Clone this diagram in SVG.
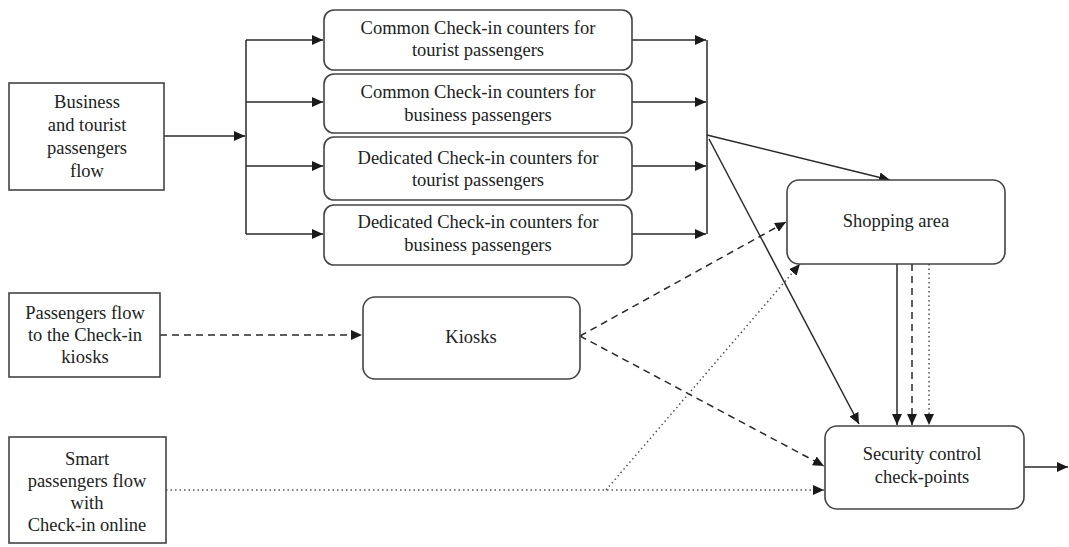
<svg xmlns="http://www.w3.org/2000/svg" width="1069" height="547" viewBox="0 0 1069 547">
<style>
.box{fill:#fff;stroke:#444;stroke-width:1.6}
.t{font-family:"Liberation Serif","Times New Roman",serif;font-size:18.5px;fill:#222;text-anchor:middle}
.ln{fill:none;stroke:#2a2a2a;stroke-width:1.5}
.ds{stroke-dasharray:7,5}
.dt{stroke-dasharray:1.5,3;stroke:#555}
</style>
<defs>
<marker id="ah" markerUnits="userSpaceOnUse" markerWidth="12" markerHeight="10" refX="11" refY="5" orient="auto">
<path d="M0,0 L11,5 L0,10 Z" fill="#1a1a1a"/>
</marker>
</defs>
<rect width="1069" height="547" fill="#fff"/>
<g id="connectors">
<path class="ln" d="M164,136 H245" marker-end="url(#ah)"/>
<path class="ln" d="M246,40 V234"/>
<path class="ln" d="M246,40 H323" marker-end="url(#ah)"/>
<path class="ln" d="M246,102 H323" marker-end="url(#ah)"/>
<path class="ln" d="M246,166 H323" marker-end="url(#ah)"/>
<path class="ln" d="M246,234 H323" marker-end="url(#ah)"/>
<path class="ln" d="M632,40 H706" marker-end="url(#ah)"/>
<path class="ln" d="M632,102 H706" marker-end="url(#ah)"/>
<path class="ln" d="M632,166 H706" marker-end="url(#ah)"/>
<path class="ln" d="M632,234 H706" marker-end="url(#ah)"/>
<path class="ln" d="M707,40 V234"/>
<path class="ln" d="M707,135 L890,180" marker-end="url(#ah)"/>
<path class="ln" d="M709,139 L859,424" marker-end="url(#ah)"/>
<path class="ln ds" d="M160,335 H362" marker-end="url(#ah)"/>
<path class="ln ds" d="M580,336 L786,222" marker-end="url(#ah)"/>
<path class="ln ds" d="M580,336 L824,466" marker-end="url(#ah)"/>
<path class="ln dt" d="M166,490 H824" marker-end="url(#ah)"/>
<path class="ln dt" d="M606,490 L800,264" marker-end="url(#ah)"/>
<path class="ln" d="M897,264 V425" marker-end="url(#ah)"/>
<path class="ln ds" d="M912,264 V425" marker-end="url(#ah)"/>
<path class="ln dt" d="M929,264 V425" marker-end="url(#ah)"/>
<path class="ln" d="M1024,467 H1068" marker-end="url(#ah)"/>
</g>
<g id="n-business">
<rect class="box" x="9" y="83" width="155" height="107"/>
<text class="t" x="87" y="108">Business</text>
<text class="t" x="87" y="131">and tourist</text>
<text class="t" x="87" y="154">passengers</text>
<text class="t" x="87" y="177">flow</text>
</g>
<g id="n-kioskflow">
<rect class="box" x="9" y="293" width="151" height="84"/>
<text class="t" x="85" y="319">Passengers flow</text>
<text class="t" x="85" y="341">to the Check-in</text>
<text class="t" x="85" y="363">kiosks</text>
</g>
<g id="n-smart">
<rect class="box" x="9" y="437" width="157" height="106"/>
<text class="t" x="87" y="465">Smart</text>
<text class="t" x="87" y="487">passengers flow</text>
<text class="t" x="87" y="509">with</text>
<text class="t" x="87" y="531">Check-in online</text>
</g>
<g id="n-c1">
<rect class="box" x="324" y="10" width="308" height="60" rx="10"/>
<text class="t" x="478" y="34">Common Check-in counters for</text>
<text class="t" x="478" y="56">tourist passengers</text>
</g>
<g id="n-c2">
<rect class="box" x="324" y="74" width="308" height="59" rx="10"/>
<text class="t" x="478" y="98">Common Check-in counters for</text>
<text class="t" x="478" y="121">business passengers</text>
</g>
<g id="n-c3">
<rect class="box" x="324" y="137" width="308" height="63" rx="10"/>
<text class="t" x="478" y="164">Dedicated Check-in counters for</text>
<text class="t" x="478" y="186">tourist passengers</text>
</g>
<g id="n-c4">
<rect class="box" x="324" y="205" width="308" height="60" rx="10"/>
<text class="t" x="478" y="228">Dedicated Check-in counters for</text>
<text class="t" x="478" y="251">business passengers</text>
</g>
<g id="n-kiosks">
<rect class="box" x="363" y="297" width="217" height="82" rx="12"/>
<text class="t" x="471" y="343">Kiosks</text>
</g>
<g id="n-shopping">
<rect class="box" x="787" y="180" width="218" height="84" rx="12"/>
<text class="t" x="896" y="227">Shopping area</text>
</g>
<g id="n-security">
<rect class="box" x="825" y="426" width="199" height="83" rx="12"/>
<text class="t" x="922" y="460">Security control</text>
<text class="t" x="922" y="483">check-points</text>
</g>
</svg>
